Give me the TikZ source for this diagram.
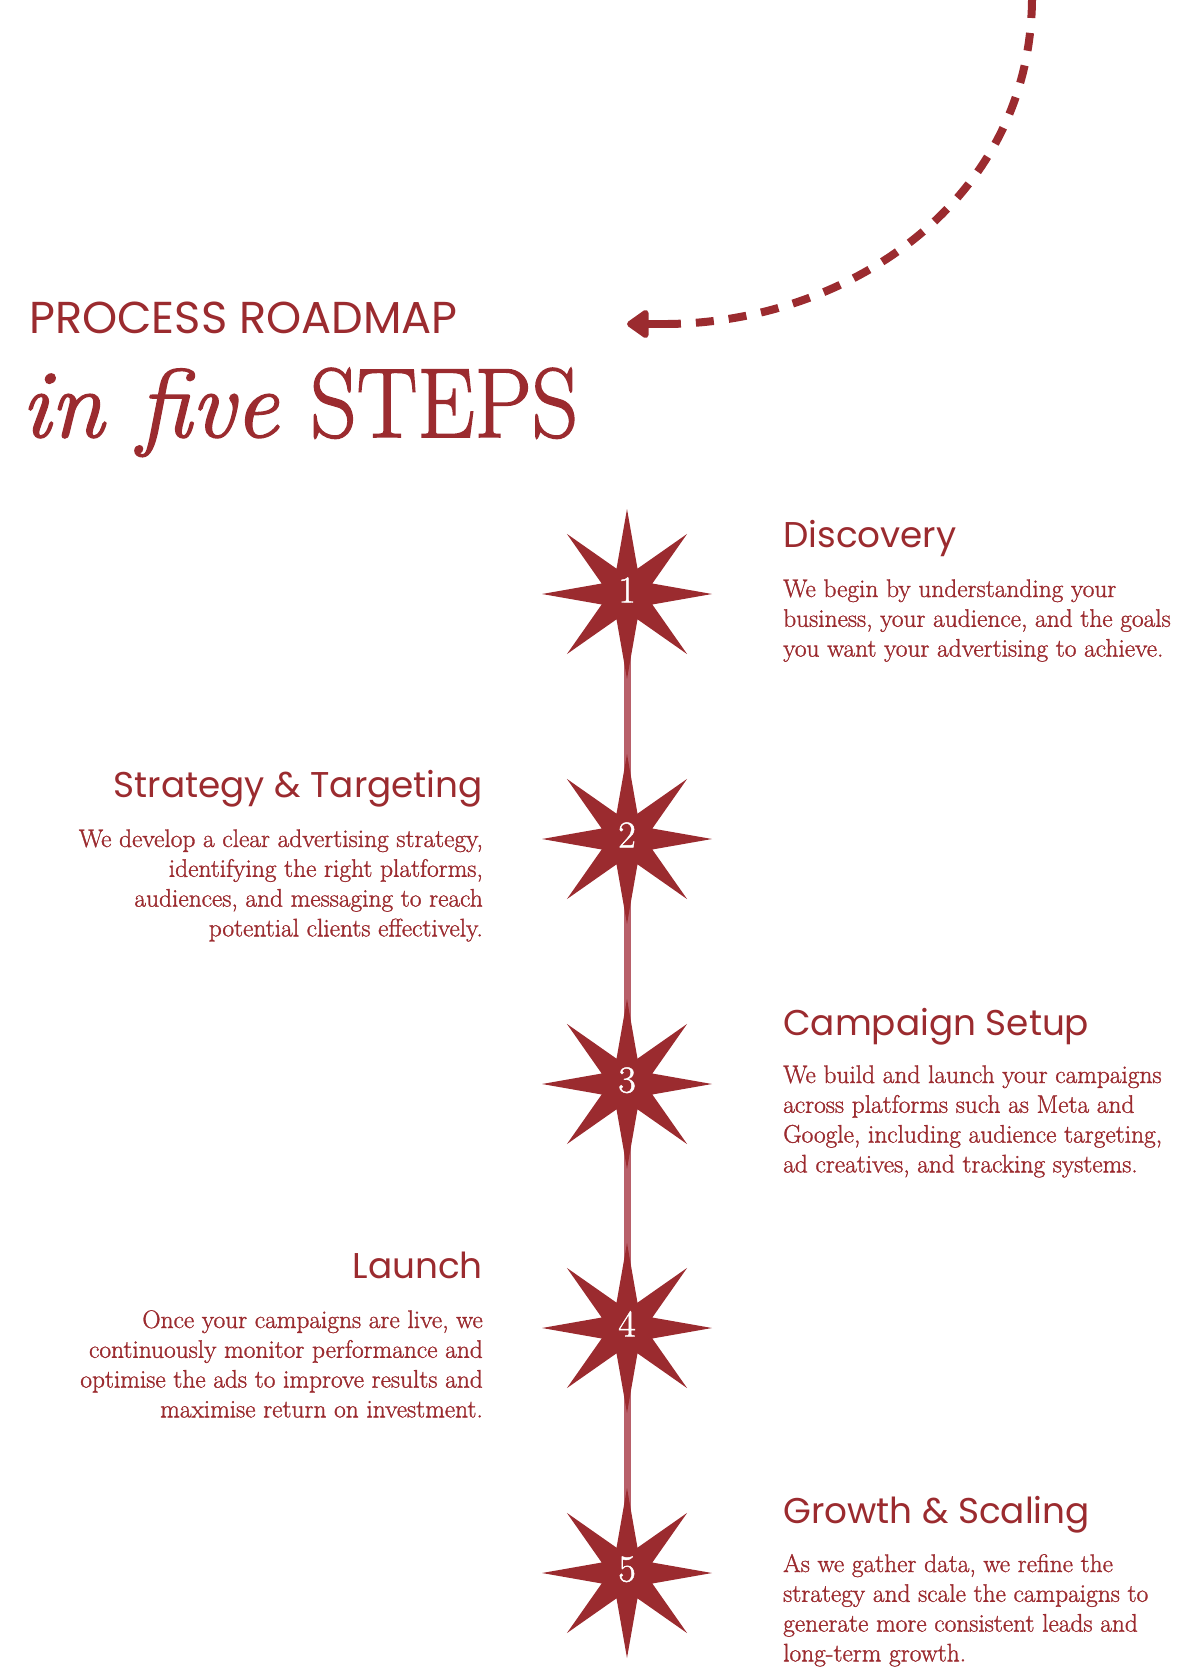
\documentclass[tikz,border=0pt]{standalone}
\usepackage{graphicx}
\usepackage{fontspec}
\newfontfamily\pop{Poppins}
\newfontfamily\bodyf{lmroman17-regular.otf}[FakeBold=1.2]
\newfontfamily\titlef{lmroman17-regular.otf}[FakeBold=1.6]
\newfontfamily\titleit{lmroman12-italic.otf}[FakeBold=1.6]
\usetikzlibrary{shapes.geometric,arrows.meta,backgrounds}
\definecolor{brand}{HTML}{9B2B2F}
\definecolor{rail}{HTML}{B8606A}
\newcommand\lcol[1]{\vtop{\baselineskip=29.8pt\lineskiplimit=-100pt\lineskip=0pt\halign{##\hfil\cr#1\crcr}}}
\newcommand\rcol[1]{\vtop{\baselineskip=29.8pt\lineskiplimit=-100pt\lineskip=0pt\halign{\hfil##\cr#1\crcr}}}
\tikzset{
  starnode/.style={star, star points=8, star point ratio=3.1, minimum size=170pt, inner sep=0pt,
    fill=brand, draw=none, text=white, text height=25pt, text depth=8pt,
    font=\bodyf\fontsize{38}{38}\selectfont},
  head/.style={inner sep=0pt, text=brand, font=\pop\fontsize{35.8}{40}\selectfont},
  body/.style={inner sep=0pt, text=brand, font=\bodyf\fontsize{25.4}{29.8}\selectfont},
}
\begin{document}
\begin{tikzpicture}[x=1pt,y=-1pt]
\useasboundingbox (0,0) rectangle (1200,1677);
% title
\node[anchor=base west, inner sep=0pt, text=brand, font=\pop\fontsize{44.7}{45}\selectfont] (kicker) at (29,334) {PROCESS ROADMAP};
\node[anchor=base west, inner sep=0pt, text=brand, font=\titleit\fontsize{97}{97}\selectfont] (infive) at (21,437) {in five};
\node[anchor=base west, inner sep=0pt, text=brand] (steps) at (310,437) {\resizebox{268pt}{69pt}{\titlef\fontsize{100}{100}\selectfont STEPS}};
% arrow
\coordinate (arrStart) at (1032,0);
\coordinate (arrEnd) at (668,324);
\coordinate (arrTip) at (627,324);
\draw[brand, line width=8pt, dash pattern=on 18pt off 15pt] (arrStart) .. controls (1030,200) and (850,322) .. (arrEnd);
\draw[brand, line width=8pt, -{Triangle[length=24pt,width=32pt,round]}] (arrEnd) -- (arrTip);
% stars
\node[starnode] (s1) at (627,594) {1};
\node[starnode] (s2) at (627,839) {2};
\node[starnode] (s3) at (627,1084) {3};
\node[starnode] (s4) at (627,1328) {4};
\node[starnode] (s5) at (627,1573) {5};
\begin{pgfonlayer}{background}
\draw[rail, line width=7pt] (s1.center) -- (s2.center) -- (s3.center) -- (s4.center) -- (s5.center);
\end{pgfonlayer}
% texts
\node[head, anchor=base west] (h1) at (783,547) {Discovery};
\node[body, anchor=base west] (b1) at (783,597) {\lcol{We begin by understanding your\cr business, your audience, and the goals\cr you want your advertising to achieve.}};
\node[head, anchor=base east] (h2) at (483,797) {Strategy \& Targeting};
\node[body, anchor=base east] (b2) at (483,847) {\rcol{We develop a clear advertising strategy,\cr identifying the right platforms,\cr audiences, and messaging to reach\cr potential clients effectively.}};
\node[head, anchor=base west] (h3) at (783,1035) {Campaign Setup};
\node[body, anchor=base west] (b3) at (783,1083) {\lcol{We build and launch your campaigns\cr across platforms such as Meta and\cr Google, including audience targeting,\cr ad creatives, and tracking systems.}};
\node[head, anchor=base east] (h4) at (483,1278) {Launch};
\node[body, anchor=base east] (b4) at (483,1328) {\rcol{Once your campaigns are live, we\cr continuously monitor performance and\cr optimise the ads to improve results and\cr maximise return on investment.}};
\node[head, anchor=base west] (h5) at (783,1523) {Growth \& Scaling};
\node[body, anchor=base west] (b5) at (783,1572) {\lcol{As we gather data, we refine the\cr strategy and scale the campaigns to\cr generate more consistent leads and\cr long-term growth.}};
\end{tikzpicture}
\end{document}
